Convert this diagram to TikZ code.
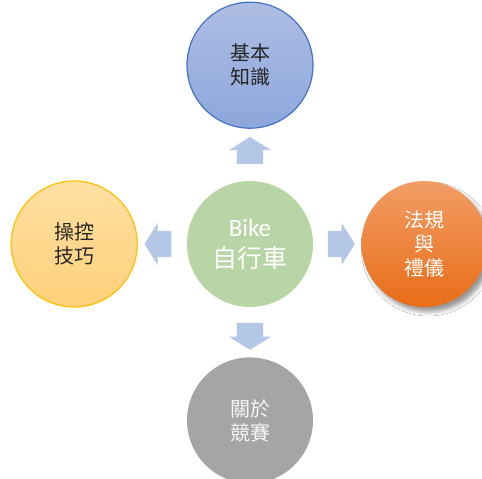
\documentclass[tikz,border=0pt]{standalone}
\usepackage{fontspec}
\setmainfont{Carlito}
\newfontfamily\cjk{Noto Sans CJK TC}
\usetikzlibrary{positioning,shapes.arrows,shadows.blur,calc}

\definecolor{basicstop}{HTML}{AEBDE3}
\definecolor{basicsbot}{HTML}{8DA7DC}
\definecolor{basicsline}{HTML}{4472C4}
\definecolor{skilltop}{HTML}{FFE0A2}
\definecolor{skillbot}{HTML}{FFD07A}
\definecolor{skillline}{HTML}{FFC000}
\definecolor{lawtop}{HTML}{F29D66}
\definecolor{lawbot}{HTML}{E86D18}
\definecolor{bikegreen}{HTML}{B8D6A5}
\definecolor{racegray}{HTML}{A5A5A5}
\definecolor{arrowblue}{HTML}{B4C7E7}

\begin{document}
\begin{tikzpicture}[x=1pt, y=-1pt,
    every node/.style={align=center},
    topic/.style={circle, minimum size=126pt, inner sep=0pt,
      font=\cjk\fontsize{20}{24}\selectfont},
    blockarrow/.style={single arrow, fill=arrowblue, inner xsep=0pt, inner ysep=13pt,
      minimum height=27pt, single arrow head extend=8pt,
      single arrow tip angle=116}
    ]
\clip (0,0) rectangle (482,479);
\fill[white] (0,0) rectangle (482,479);

\node[topic, fill=bikegreen, text=white, font=\fontsize{25}{31}\selectfont] (bike) at (250,244)
  {Bike\\{\cjk\fontsize{25}{31}\selectfont 自行車}};

\node[topic, above=52pt of bike, draw=basicsline, line width=1.2pt,
  top color=basicstop, bottom color=basicsbot, text=black!85] (basics) {基本\\知識};
\node[topic, left=49pt of bike, draw=skillline, line width=1.2pt,
  top color=skilltop, bottom color=skillbot, text=black!85] (skills) {操控\\技巧};
\node[topic, right=48pt of bike, top color=lawtop, bottom color=lawbot, text=white,
  blur shadow={shadow xshift=4pt, shadow yshift=-5pt, shadow blur radius=4pt, shadow opacity=40}]
  (rules) {法規\\與\\禮儀};
\node[topic, below=50pt of bike, fill=racegray, text=white!92!gray] (race) {關於\\競賽};

% block arrows between the hub and each topic
\node[blockarrow, rotate=90]  (toBasics) at ($(bike)!0.5!(basics)$) {};
\node[blockarrow, rotate=180] (toSkills) at ($(bike)!0.5!(skills)$) {};
\node[blockarrow]             (toRules)  at ($(bike)!0.5!(rules)$)  {};
\node[blockarrow, rotate=-90] (toRace)   at ($(bike)!0.5!(race)$)   {};
\end{tikzpicture}
\end{document}
